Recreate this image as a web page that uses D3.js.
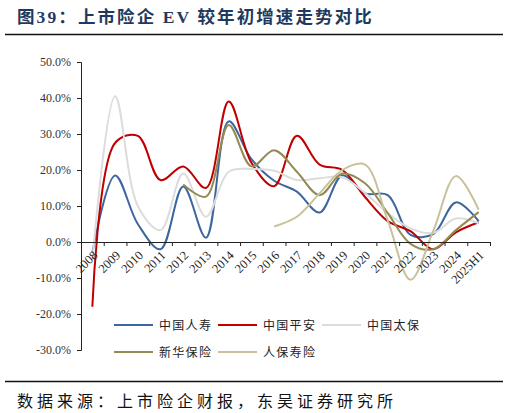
<!DOCTYPE html>
<html>
<head>
<meta charset="utf-8">
<script src="https://cdn.jsdelivr.net/npm/d3@7"></script>
<style>
  body { margin: 0; background: #fff; }
  svg { display: block; }
</style>
</head>
<body>
<svg id="chart" width="509" height="413"></svg>
<script>
// categories on the x axis
const years = ['2008', '2009', '2010', '2011', '2012', '2013', '2014', '2015', '2016',
  '2017', '2018', '2019', '2020', '2021', '2022', '2023', '2024', '2025H1'];

// EV growth vs start of year, %
const chinaLife = [-3, 18.5, 5, -2, 15.4, 1.2, 33.5, 23, 17, 14, 8.2, 18.5, 13.5, 13, 2, 2.2, 11, 5.8];
const pingAn = [-18, 27.5, 29.5, 17.2, 21, 15, 39, 22, 15.5, 29.5, 21.5, 20, 12.5, 5.8, 3, -2, 2.7, 5.5];
const cpic = [-5, 40.5, 10, 3.3, 19, 7, 19.5, 20.3, 19.8, 17.2, 17.7, 18, 13.6, 8, 3.8, 2.5, 6.5, 5.2];
const nci = [null, null, null, null, 16, 12.6, 32.5, 21, 25.5, 19.5, 13, 19, 16.3, 8, -0.5, -2, 3.3, 8.3];
const piccLife = [null, null, null, null, null, null, null, null, 4.3, 7, 13.5, 20, 21.5, 6, -10.5, 3, 18.3, 9];

const yTicks = [50, 40, 30, 20, 10, 0, -10, -20, -30];

const series = [
  { name: '中国人寿', values: chinaLife, color: '#3C669F' },
  { name: '中国平安', values: pingAn, color: '#C00000' },
  { name: '中国太保', values: cpic, color: '#DCDCDC' },
  { name: '新华保险', values: nci, color: '#948A54' },
  { name: '人保寿险', values: piccLife, color: '#C9C19B' }
];

const svg = d3.select('#chart');
const plot = { left: 81, right: 490, top: 62, bottom: 350 };

// title and rules
svg.append('text')
  .attr('x', 17).attr('y', 23)
  .attr('fill', '#1F3A60')
  .attr('font-family', '"Liberation Serif", "Noto Sans CJK SC", serif')
  .attr('font-weight', 'bold')
  .attr('font-size', 17.5)
  .attr('letter-spacing', 2.1)
  .text('图39：上市险企 EV 较年初增速走势对比');

svg.append('line')
  .attr('x1', 5).attr('x2', 503).attr('y1', 34.5).attr('y2', 34.5)
  .attr('stroke', '#111').attr('stroke-width', 1.6);

svg.append('line')
  .attr('x1', 5).attr('x2', 503).attr('y1', 381.5).attr('y2', 381.5)
  .attr('stroke', '#111').attr('stroke-width', 1.6);

svg.append('text')
  .attr('x', 17).attr('y', 407)
  .attr('fill', '#111')
  .attr('font-family', '"Noto Sans CJK SC", sans-serif')
  .attr('font-size', 16)
  .attr('letter-spacing', 4)
  .text('数据来源：上市险企财报，东吴证券研究所');

// scales
const x = d3.scaleBand()
  .domain(years)
  .range([plot.left, plot.right])
  .padding(0);
const xEdge = d3.scaleLinear()
  .domain([0, years.length])
  .range([plot.left, plot.right]);
const y = d3.scaleLinear()
  .domain([-30, 50])
  .range([plot.bottom, plot.top]);

const cx = d => x(d) + x.bandwidth() / 2;

// y axis
const yAxis = svg.append('g')
  .attr('transform', `translate(${plot.left},0)`)
  .call(d3.axisLeft(y)
    .tickValues(yTicks)
    .tickSize(4)
    .tickFormat(d => d.toFixed(1) + '%'));
yAxis.select('.domain').attr('stroke', '#222');
yAxis.selectAll('.tick line').attr('stroke', '#222');
yAxis.selectAll('.tick text')
  .attr('x', -10)
  .attr('fill', '#333')
  .attr('font-family', '"Liberation Serif", serif')
  .attr('font-size', 12);

// lines (smoothed like the spreadsheet original)
const line = d3.line()
  .defined(d => d.v !== null)
  .x(d => cx(d.year))
  .y(d => y(d.v))
  .curve(d3.curveCatmullRom.alpha(0.5));

const lineGroup = svg.append('g').attr('id', 'lines');
lineGroup.selectAll('path')
  .data(series)
  .join('path')
  .attr('fill', 'none')
  .attr('stroke', d => d.color)
  .attr('stroke-width', 2)
  .attr('stroke-linejoin', 'round')
  .attr('d', d => line(d.values.map((v, i) => ({ year: years[i], v: v }))));

// x axis at 0%: ticks between categories, labels rotated
const xTicks = svg.append('g')
  .attr('transform', `translate(0,${y(0)})`)
  .call(d3.axisBottom(xEdge)
    .tickValues(d3.range(years.length + 1))
    .tickSize(4)
    .tickFormat(''));
xTicks.select('.domain').attr('stroke', '#222');
xTicks.selectAll('.tick line').attr('stroke', '#222');

const xLabels = svg.append('g')
  .attr('transform', `translate(0,${y(0)})`)
  .call(d3.axisBottom(x).tickSize(0));
xLabels.select('.domain').remove();
xLabels.selectAll('.tick text')
  .attr('text-anchor', 'end')
  .attr('x', 0).attr('y', 0).attr('dy', 0)
  .attr('transform', 'translate(6,14) rotate(-45)')
  .attr('fill', '#222')
  .attr('font-family', '"Liberation Serif", serif')
  .attr('font-size', 12.5);

// legend
const legendCols = [114, 218, 322];
const legendRows = [325, 352];
const legend = svg.append('g').attr('id', 'legend');
const items = legend.selectAll('g')
  .data(series)
  .join('g')
  .attr('transform', (d, i) => `translate(${legendCols[i % 3]},${legendRows[Math.floor(i / 3)]})`);
items.append('line')
  .attr('x1', 0).attr('x2', 39)
  .attr('y1', 0).attr('y2', 0)
  .attr('stroke', d => d.color)
  .attr('stroke-width', 2);
items.append('text')
  .attr('x', 45).attr('y', 4.5)
  .attr('fill', '#222')
  .attr('font-family', '"Noto Sans CJK SC", sans-serif')
  .attr('font-size', 12)
  .attr('letter-spacing', 1.3)
  .text(d => d.name);
</script>
</body>
</html>
